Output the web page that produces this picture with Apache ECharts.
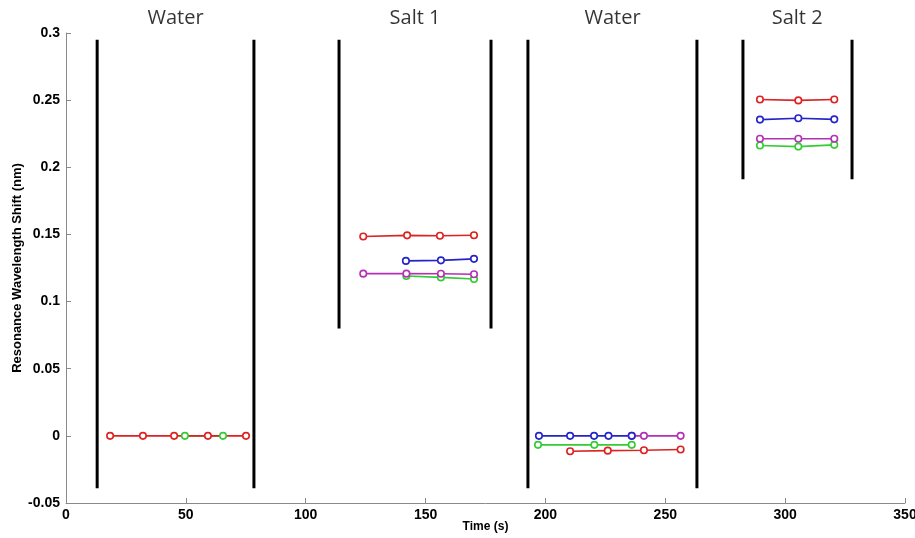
<!DOCTYPE html>
<html>
<head>
<meta charset="utf-8">
<script src="https://cdn.jsdelivr.net/npm/echarts@6/dist/echarts.min.js"></script>
<style>
  html, body { margin: 0; padding: 0; background: #fff; }
  #chart { width: 915px; height: 538px; }
</style>
</head>
<body>
<div id="chart"></div>
<script>
// phase labels, centred between the black bars
const phaseNames = ['Water', 'Salt 1', 'Water', 'Salt 2']
const phaseCentres = [45.7, 145.6, 228, 305]

// black bars: [time, bottom, top]
const barTimes = [13, 78.4, 113.9, 177.3, 192.7, 263.2, 282.4, 327.9]
const barBottoms = [-0.039, -0.039, 0.08, 0.08, -0.039, -0.039, 0.191, 0.191]
const barTop = 0.295

// each series is split in segments (one per phase)
const redTime = [[18.4, 32.1, 45.1, 59.2, 75.1], [124, 142.3, 156, 170.2], [210.3, 226, 241.1, 256.4], [289.5, 305.5, 320.5]]
const redShift = [[0, 0, 0, 0, 0], [0.1485, 0.1493, 0.149, 0.1494], [-0.0115, -0.011, -0.0107, -0.0102], [0.2505, 0.2498, 0.2505]]

const blueTime = [[141.8, 156.4, 170.2], [197.3, 210.3, 220.3, 226.3, 236.0], [289.5, 305.5, 320.5]]
const blueShift = [[0.1303, 0.1307, 0.1318], [0, 0, 0, 0, 0], [0.2355, 0.2365, 0.2357]]

const purpleTime = [[124, 142, 156.4, 170.2], [236.0, 241.1, 256.4], [289.5, 305.5, 320.5]]
const purpleShift = [[0.1208, 0.1208, 0.1207, 0.1203], [0, 0, 0], [0.2212, 0.2212, 0.2212]]

const greenTime = [[49.6, 65.5], [142, 156.4, 170.2], [196.9, 220.4, 236.0], [289.5, 305.5, 320.5]]
const greenShift = [[0, 0], [0.119, 0.118, 0.1168], [-0.0067, -0.0067, -0.0067], [0.2162, 0.2154, 0.2167]]

function segments(times, shifts) {
  const out = []
  times.forEach((t, i) => {
    if (i > 0) out.push('-')
    t.forEach((x, j) => out.push([x, shifts[i][j]]))
  })
  return out
}

function dataSeries(name, color, times, shifts) {
  return {
    name: name,
    type: 'line',
    data: segments(times, shifts),
    connectNulls: false,
    symbol: 'circle',
    symbolSize: 6.5,
    showSymbol: true,
    lineStyle: { color: color, width: 1.6 },
    itemStyle: { color: '#fff', borderColor: color, borderWidth: 1.6 },
    z: 3
  }
}

const chart = echarts.init(document.getElementById('chart'))

const bars = []
barTimes.forEach((t, i) => {
  if (i > 0) bars.push('-')
  bars.push([t, barBottoms[i]], [t, barTop])
})

chart.setOption({
  animation: false,
  grid: { left: 66, right: 10, top: 33, bottom: 35, outerBoundsMode: 'none' },
  xAxis: {
    type: 'value',
    min: 0,
    max: 350,
    interval: 50,
    name: 'Time (s)',
    nameLocation: 'middle',
    nameGap: 18,
    nameMoveOverlap: false,
    nameTextStyle: { fontFamily: 'Liberation Sans', fontWeight: 'bold', fontSize: 12, color: '#000' },
    axisLine: { onZero: false, lineStyle: { color: '#8a8a8a', width: 1 } },
    axisTick: { inside: true, length: 5, lineStyle: { color: '#8a8a8a' } },
    axisLabel: { margin: 5, fontFamily: 'Liberation Sans', fontWeight: 'bold', fontSize: 14, color: '#000' },
    splitLine: { show: false }
  },
  yAxis: {
    type: 'value',
    min: -0.05,
    max: 0.3,
    interval: 0.05,
    name: 'Resonance Wavelength Shift (nm)',
    nameLocation: 'middle',
    nameGap: 42,
    nameMoveOverlap: false,
    nameTextStyle: { fontFamily: 'Liberation Sans', fontWeight: 'bold', fontSize: 13, color: '#000' },
    axisLine: { show: true, lineStyle: { color: '#8a8a8a', width: 1 } },
    axisTick: { show: true, inside: true, length: 5, lineStyle: { color: '#8a8a8a' } },
    axisLabel: { margin: 6, fontFamily: 'Liberation Sans', fontWeight: 'bold', fontSize: 14, color: '#000' },
    splitLine: { show: false }
  },
  series: [
    {
      type: 'line',
      data: bars,
      connectNulls: false,
      showSymbol: false,
      symbol: 'none',
      lineStyle: { color: '#000', width: 3 },
      z: 2
    },
    dataSeries('green', '#33cc33', greenTime, greenShift),
    dataSeries('purple', '#b430b4', purpleTime, purpleShift),
    dataSeries('blue', '#2424c8', blueTime, blueShift),
    dataSeries('red', '#dd2222', redTime, redShift),
    {
      type: 'scatter',
      data: phaseCentres.map(x => [x, 0.3]),
      symbolSize: 0,
      label: {
        show: true,
        position: 'top',
        distance: 5,
        formatter: p => phaseNames[p.dataIndex],
        fontFamily: 'Open Sans',
        fontSize: 20,
        color: '#000'
      },
      silent: true
    }
  ]
})
</script>
</body>
</html>
